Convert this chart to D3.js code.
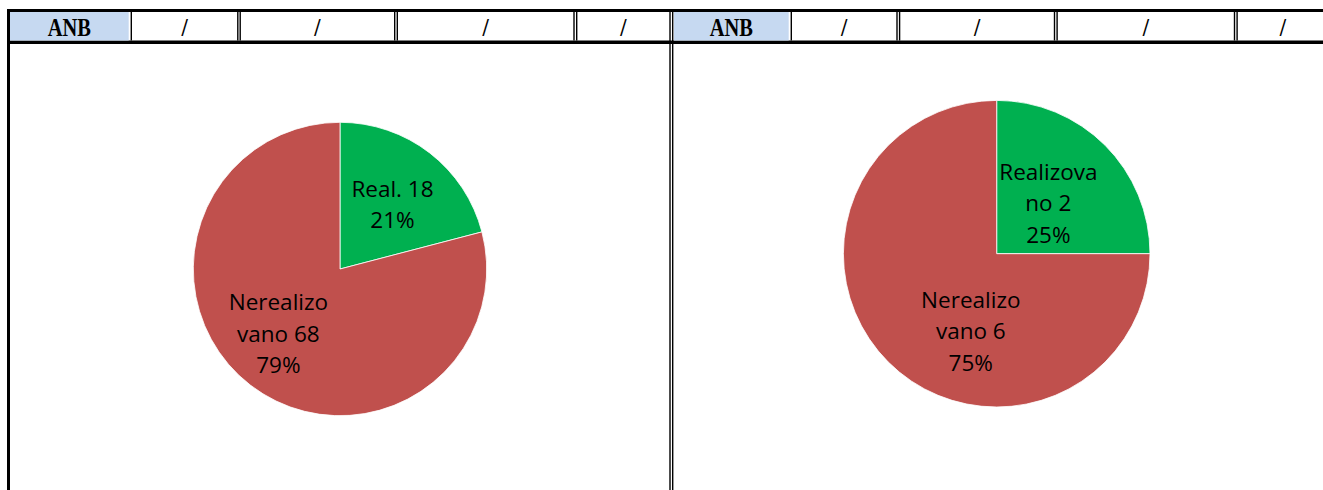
<!DOCTYPE html>
<html><head><meta charset="utf-8">
<script src="https://cdn.jsdelivr.net/npm/d3@7"></script>
<style>
html,body{margin:0;padding:0;background:#fff;}
svg{display:block;}
</style></head>
<body>
<script>
// ---- data ----
const headerLabels = ["ANB", "/", "/", "/", "/"];
const pie1Categories = ["Real.", "Nerealizovano"];
const pie1Values = [18, 68];
const pie2Categories = ["Realizovano", "Nerealizovano"];
const pie2Values = [2, 6];
const sliceColors = ["#00B050", "#C0504D"];

// ---- layout ----
const W = 1323, H = 490;
const svg = d3.select("body").append("svg").attr("width", W).attr("height", H);
svg.append("rect").attr("width", W).attr("height", H).attr("fill", "#fff");

const headTop = 9;
const panels = [
  {ancLeft: 10, ancRight: 128.7, sep: 131.3, bounds: [[237.8,240.2],[394.7,397.3],[574,576.7]], end: 669.3},
  {ancLeft: 674, ancRight: 788.7, sep: 791.3, bounds: [[897,899.6],[1054.5,1057.1],[1234.5,1237.1]], end: 1328}
];

svg.append("rect").attr("x", 7).attr("y", headTop).attr("width", W).attr("height", 3).attr("fill", "#000");
svg.append("rect").attr("x", 7).attr("y", 40.5).attr("width", W).attr("height", 3.5).attr("fill", "#000");
svg.append("rect").attr("x", 7).attr("y", headTop).attr("width", 3).attr("height", H).attr("fill", "#000");
[670, 672.7].forEach(x => svg.append("rect").attr("x", x - 0.7).attr("y", headTop).attr("width", 1.4).attr("height", H).attr("fill", "#000"));

panels.forEach(p => {
  svg.append("rect").attr("x", p.ancLeft).attr("y", 12).attr("width", p.ancRight - p.ancLeft).attr("height", 28.5).attr("fill", "#C6D9F1");
  svg.append("rect").attr("x", p.sep - 0.7).attr("y", 12).attr("width", 1.4).attr("height", 28.5).attr("fill", "#000");
  p.bounds.forEach(b => b.forEach(x =>
    svg.append("rect").attr("x", x - 0.7).attr("y", 12).attr("width", 1.4).attr("height", 28.5).attr("fill", "#000")));
  const cells = [[p.ancLeft, p.ancRight], [p.sep + 0.7, p.bounds[0][0] - 0.7]];
  for (let i = 0; i < 2; i++) cells.push([p.bounds[i][1] + 0.7, p.bounds[i + 1][0] - 0.7]);
  cells.push([p.bounds[2][1] + 0.7, p.end]);
  cells.forEach((c, i) => {
    const cx = (c[0] + c[1]) / 2, by = 36.5;
    svg.append("text").attr("x", cx).attr("y", by)
      .attr("text-anchor", "middle").attr("font-family", "Liberation Serif, serif")
      .attr("font-weight", "bold").attr("font-size", 25).attr("fill", "#000")
      .attr("transform", `translate(${cx},${by}) scale(${i === 0 ? 0.82 : 0.9},1.02) translate(${-cx},${-by})`)
      .text(headerLabels[i]);
  });
});

// ---- pies ----
const pies = [
  {cats: pie1Categories, vals: pie1Values, cx: 340, cy: 269, r: 146.7,
   labelPos: [[0.358, -0.44], [-0.42, 0.44]]},
  {cats: pie2Categories, vals: pie2Values, cx: 996.7, cy: 253.7, r: 153.3,
   labelPos: [[0.337, -0.33], [-0.169, 0.505]]}
];

pies.forEach(pc => {
  const g = svg.append("g").attr("transform", `translate(${pc.cx},${pc.cy})`);
  const total = d3.sum(pc.vals);
  const pie = d3.pie().sort(null).value(d => d)(pc.vals);
  const arc = d3.arc().innerRadius(0).outerRadius(pc.r);
  g.selectAll("path").data(pie).join("path")
    .attr("d", arc).attr("fill", (d, i) => sliceColors[i])
    .attr("stroke", "#fff").attr("stroke-width", 0.8);
  pie.forEach((d, i) => {
    const full = pc.cats[i] + " " + pc.vals[i];
    const lines = full.length > 9 ? [full.slice(0, 9), full.slice(9)] : [full];
    lines.push(Math.round(pc.vals[i] / total * 100) + "%");
    const lx = pc.labelPos[i][0] * pc.r, ly = pc.labelPos[i][1] * pc.r;
    const lh = 31.5;
    const t = g.append("text").attr("text-anchor", "middle")
      .attr("font-family", "Open Sans, sans-serif").attr("font-size", 22.5).attr("fill", "#000");
    lines.forEach((ln, k) => {
      t.append("tspan").attr("x", lx)
        .attr("y", ly + (k - (lines.length - 1) / 2) * lh + 8).text(ln);
    });
  });
});
</script>
</body></html>
